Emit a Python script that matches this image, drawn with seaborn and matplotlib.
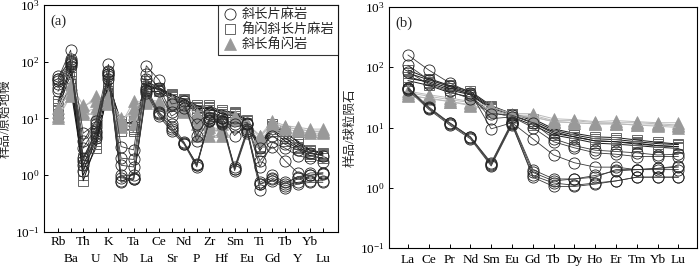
import numpy as np
import pandas as pd
import matplotlib
matplotlib.use("Agg")
import matplotlib.pyplot as plt
from matplotlib.lines import Line2D
import seaborn as sns

# 微量元素 (原始地幔标准化) 与稀土元素 (球粒陨石标准化)
elem_a = ['Rb', 'Ba', 'Th', 'U', 'K', 'Nb', 'Ta', 'La', 'Ce', 'Sr', 'Nd',
          'P', 'Zr', 'Hf', 'Sm', 'Eu', 'Ti', 'Gd', 'Tb', 'Y', 'Yb', 'Lu']
elem_b = ['La', 'Ce', 'Pr', 'Nd', 'Sm', 'Eu', 'Gd', 'Tb', 'Dy', 'Ho',
          'Er', 'Tm', 'Yb', 'Lu']

groups = ['斜长片麻岩', '角闪斜长片麻岩', '斜长角闪岩']

# (a) 斜长片麻岩
circ_a = [
    [45, 100, 1.5, 5, 65, 0.8, 0.9, 30, 12, 6.5, 3.7, 1.5, 10, 9, 1.3, 6, 0.55, 0.85, 0.65, 0.75, 0.8, 0.8],
    [50, 110, 2, 6, 70, 1.0, 1.0, 35, 13, 8, 3.8, 1.5, 9, 8.5, 1.4, 6.5, 0.7, 0.9, 0.7, 0.95, 1.0, 1.05],
    [40, 95, 1.2, 4.5, 60, 0.75, 0.85, 28, 11, 6, 3.5, 1.4, 9.5, 8, 1.2, 5.5, 0.7, 0.8, 0.6, 0.7, 0.75, 0.75],
    [55, 105, 1.8, 5.5, 62, 0.9, 0.85, 32, 12.5, 7, 3.6, 1.6, 9, 8.8, 1.3, 6, 0.75, 1.0, 0.75, 0.9, 1.1, 1.1],
    [50, 160, 5.5, 8, 90, 3.2, 2.8, 85, 48, 18, 20, 4, 10, 9, 7, 8, 1.8, 3.2, 1.8, 1.1, 1.0, 1.1],
    [35, 90, 4, 9, 55, 2, 1.9, 60, 35, 13, 17, 5, 12, 10, 5, 8, 1.4, 3.8, 3, 2.2, 2, 1.7],
    [30, 85, 3, 7, 50, 1.5, 1.4, 50, 30, 11, 15, 8, 13, 10, 8, 8.5, 3, 5, 3.5, 2.8, 2.5, 2.2],
]
# (a) 角闪斜长片麻岩
sq_a = [
    [15, 60, 1.0, 3, 35, 7, 6, 35, 33, 25, 20, 15, 15, 12, 12, 9, 3, 7, 5, 3.5, 2.5, 2.2],
    [20, 80, 0.8, 3.5, 45, 8, 7, 45, 35, 27, 21, 16, 17, 13, 13, 9.5, 3.2, 7.5, 5.5, 4, 2.8, 2.5],
    [12, 40, 1.5, 4.5, 30, 6, 6.5, 30, 30, 22, 18, 13, 13, 11, 10, 8, 2.7, 6, 4, 3, 2.2, 2.0],
    [18, 70, 2, 5.5, 40, 9, 8, 40, 32, 24, 19, 14, 16, 12, 11, 8.5, 3, 6.5, 4.5, 3.2, 2.4, 2.3],
    [14, 35, 1.2, 4, 28, 7.5, 9, 38, 34, 26, 22, 17, 14, 14, 12.5, 9, 3.3, 8, 6, 3.8, 2.7, 2.4],
]
# (a) 斜长角闪岩
tri_a = [
    [11, 28, 15, 25, 20, 8, 20, 20, 18, 18, 14, 10, 6, 6, 10, 8, 5, 8, 7, 6.5, 6, 6],
    [13, 35, 13, 15, 25, 10, 12, 21, 19, 19, 15, 5, 5, 5, 9.5, 8.5, 4.5, 8.5, 7, 6.5, 6, 5.8],
    [10, 25, 12, 12, 18, 7, 8, 19, 17, 17, 13, 8, 7, 6.5, 10, 7.5, 4, 7.5, 6.5, 6, 5.5, 5.5],
    [15, 40, 17, 20, 22, 9, 15, 22, 20, 20, 16, 12, 8, 8, 11, 8, 5, 9, 7.5, 7, 6.5, 6.5],
]

# (b) 斜长片麻岩
circ_b = [
    [45, 21, 12, 7, 2.5, 12, 1.8, 1.3, 1.4, 1.5, 2.0, 2.0, 2.0, 2.0],
    [42, 20, 11, 6.5, 2.3, 11, 1.6, 1.2, 1.1, 1.2, 1.3, 1.5, 1.5, 1.5],
    [46, 22, 12, 7, 2.6, 12.5, 2.0, 1.4, 1.4, 1.6, 1.9, 2.0, 2.1, 2.3],
    [44, 21, 11.5, 6.8, 2.4, 11.5, 1.5, 1.05, 1.05, 1.15, 1.3, 1.5, 1.5, 1.5],
    [160, 90, 55, 38, 9.5, 12, 6.5, 3.5, 2.6, 2.2, 2.2, 2.0, 2.1, 2.2],
    [108, 62, 48, 35, 14, 15, 10, 5.8, 4.6, 3.8, 3.6, 3.3, 3.3, 3.3],
    [85, 52, 40, 30, 17, 16, 12, 6.5, 5, 4.2, 4, 3.8, 3.5, 3.6],
]
# (b) 角闪斜长片麻岩
sq_b = [
    [70, 55, 42, 35, 20, 16, 12, 8, 7, 6, 5.8, 5.3, 5, 4.8],
    [80, 62, 48, 38, 22, 17, 13, 9, 7.5, 6.5, 6.3, 5.8, 5.4, 5.2],
    [60, 50, 38, 32, 18, 15, 11, 7.5, 6.5, 5.5, 5.3, 5, 4.7, 4.5],
    [90, 65, 50, 40, 23, 17, 14, 9.5, 8, 7, 6.8, 6.2, 5.7, 5.3],
    [65, 58, 45, 36, 21, 16, 12, 8.5, 7, 6, 5.8, 5.5, 5, 4.8],
]
# (b) 斜长角闪岩
tri_b = [
    [38, 33, 29, 26, 20, 16, 16, 13, 13, 12, 12, 12, 11.5, 11],
    [35, 30, 27, 24, 19, 15, 15, 12.5, 12, 11.5, 11.5, 11, 11, 10.5],
    [40, 35, 31, 27, 22, 17, 17, 14, 13.5, 12.5, 13, 12.5, 12, 12],
    [33, 31, 27, 23, 19, 15, 15, 12.5, 12, 11.5, 11.5, 11, 10.5, 10],
]


def to_long(samples, elems):
    rows = []
    for i, vals in enumerate(samples):
        for j, v in enumerate(vals):
            rows.append({'sample': i, 'pos': j, 'elem': elems[j], 'value': v})
    return pd.DataFrame(rows)


sns.set_theme(style="ticks")
plt.rcParams['font.family'] = ['Liberation Serif', 'Noto Sans CJK SC']
plt.rcParams['mathtext.fontset'] = 'stix'
plt.rcParams['axes.unicode_minus'] = False

styles = {
    '斜长片麻岩': dict(marker='o', markersize=8, markerfacecolor='none',
                  markeredgecolor='#222222', markeredgewidth=0.6,
                  color='#3a3a3a', linewidth=0.6),
    '角闪斜长片麻岩': dict(marker='s', markersize=7.5, markerfacecolor='none',
                    markeredgecolor='#666666', markeredgewidth=0.7,
                    color='#1a1a1a', linewidth=0.7),
    '斜长角闪岩': dict(marker='^', markersize=8, markerfacecolor='#999999',
                  markeredgecolor='#999999', markeredgewidth=0.5,
                  color='#bbbbbb', linewidth=0.7),
}

fig = plt.figure(figsize=(7, 2.69), dpi=100)
ax_a = fig.add_axes([0.063, 0.1375, 0.42, 0.844])
ax_b = fig.add_axes([0.556, 0.078, 0.44, 0.896])

panels = [
    (ax_a, elem_a, {'斜长片麻岩': circ_a, '角闪斜长片麻岩': sq_a, '斜长角闪岩': tri_a}),
    (ax_b, elem_b, {'斜长片麻岩': circ_b, '角闪斜长片麻岩': sq_b, '斜长角闪岩': tri_b}),
]

draw_order = ['角闪斜长片麻岩', '斜长角闪岩', '斜长片麻岩']
for ax, elems, data in panels:
    for g in draw_order:
        df = to_long(data[g], elems)
        sns.lineplot(data=df, x='pos', y='value', units='sample', estimator=None,
                     sort=False, legend=False, ax=ax, **styles[g])
    ax.set_yscale('log')
    ax.set_ylim(0.1, 1000)
    ax.set_xlabel('')
    for s in ax.spines.values():
        s.set_visible(True)
        s.set_color('black')
        s.set_linewidth(0.8)
    ax.tick_params(axis='both', which='both', direction='in', length=3, width=0.7,
                   labelsize=9.5, colors='black')
    ax.tick_params(axis='y', which='minor', length=0)

# (a) 横轴标签分两行: 偶数位放主刻度, 奇数位放次刻度并下移
pos_a = np.arange(len(elem_a))
ax_a.set_xlim(-1.1, 22.2)
ax_a.set_xticks(pos_a[::2])
ax_a.set_xticklabels(elem_a[::2])
ax_a.set_xticks(pos_a[1::2], minor=True)
ax_a.set_xticklabels(elem_a[1::2], minor=True)
ax_a.tick_params(axis='x', which='major', pad=3)
ax_a.tick_params(axis='x', which='minor', pad=15)

ax_b.set_xlim(-0.9, 13.9)
ax_b.set_xticks(np.arange(len(elem_b)))
ax_b.set_xticklabels(elem_b)
ax_b.tick_params(axis='x', pad=4)

ax_a.set_ylabel('样品/原始地幔', fontsize=9, labelpad=2)
ax_b.set_ylabel('样品/球粒陨石', fontsize=9, labelpad=2)

ax_a.text(0.02, 0.96, '(a)', transform=ax_a.transAxes, fontsize=10.5, va='top')
ax_b.text(0.02, 0.96, '(b)', transform=ax_b.transAxes, fontsize=10.5, va='top')

handles = [Line2D([], [], linestyle='none', **{k: v for k, v in styles[g].items()
                                               if k not in ('color', 'linewidth')})
           for g in groups]
leg = ax_a.legend(handles, groups, loc='upper right', borderaxespad=0,
                  fontsize=9.5, frameon=True, fancybox=False, handletextpad=0.3,
                  labelspacing=0.15, borderpad=0.3, handlelength=1.2)
leg.get_frame().set_edgecolor('black')
leg.get_frame().set_linewidth(0.8)

fig.savefig('out.png', dpi=100)
